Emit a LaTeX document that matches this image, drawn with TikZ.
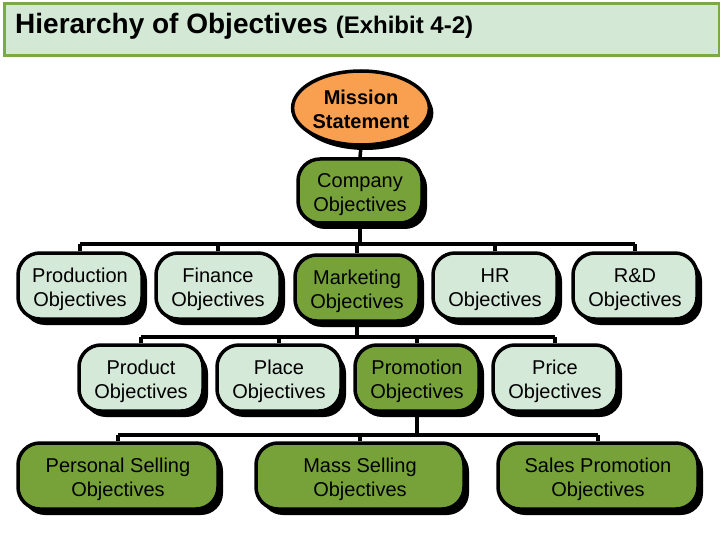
\documentclass[tikz,border=0pt]{standalone}
\usepackage{fontspec}
\setmainfont{Liberation Sans}
\usetikzlibrary{shapes.geometric,shadows,backgrounds}
\definecolor{titlefill}{HTML}{D3E8D5}
\definecolor{titleline}{HTML}{79AA45}
\definecolor{lightbox}{HTML}{D4E9D8}
\definecolor{darkbox}{HTML}{77A23A}
\definecolor{orangefill}{HTML}{F8A050}
\newcommand{\lowstrut}{\rule{0pt}{22pt}}
\newcommand{\midstrut}{\rule{0pt}{18pt}}
\tikzset{
  boxbase/.style={draw=black, line width=3.5pt, rounded corners=22pt, align=center,
    inner sep=0pt, minimum height=66pt,
    font=\fontsize{20}{24}\selectfont,
    drop shadow={shadow xshift=5pt, shadow yshift=-6pt, fill=black, opacity=1}},
  lightnode/.style={boxbase, fill=lightbox, minimum width=124pt},
  darknode/.style={boxbase, fill=darkbox, minimum width=124pt},
  widenode/.style={boxbase, fill=darkbox, minimum width=200pt},
  missionnode/.style={ellipse, draw=black, line width=3.5pt, fill=orangefill, align=center,
    inner sep=0pt, minimum width=136pt, minimum height=74pt,
    font=\bfseries\fontsize{20}{24}\selectfont,
    drop shadow={shadow xshift=4pt, shadow yshift=-5pt, fill=black, opacity=1}},
  conn/.style={draw=black, line width=3.5pt}
}
\begin{document}
\begin{tikzpicture}[x=1pt,y=-1pt]
\useasboundingbox (0,0) rectangle (720,540);
% title bar
\node[draw=titleline, line width=3pt, fill=titlefill, minimum width=715pt, minimum height=52pt, inner sep=0pt, anchor=north west] (titlebar) at (2.5,2.5) {};
\node[anchor=base west, inner sep=0pt] (title) at (15,34)
  {\bfseries\fontsize{28}{30}\selectfont Hierarchy of Objectives \fontsize{24}{26}\selectfont(Exhibit 4-2)};
% nodes
\node[missionnode] (mission) at (361,108) {\midstrut Mission\\Statement};
\node[darknode, minimum height=64pt] (company) at (360,191) {\lowstrut Company\\Objectives};
\node[lightnode] (production) at (80,286) {\lowstrut Production\\Objectives};
\node[lightnode] (finance) at (218,286) {\lowstrut Finance\\Objectives};
\node[darknode] (marketing) at (357,288) {\lowstrut Marketing\\Objectives};
\node[lightnode] (hr) at (495,286) {\lowstrut HR\\Objectives};
\node[lightnode] (rd) at (635,286) {\lowstrut R\&D\\Objectives};
\node[lightnode] (product) at (141,378) {\lowstrut Product\\Objectives};
\node[lightnode] (place) at (279,378) {\lowstrut Place\\Objectives};
\node[darknode] (promotion) at (417,378) {\lowstrut Promotion\\Objectives};
\node[lightnode] (price) at (555,378) {\lowstrut Price\\Objectives};
\node[widenode] (personal) at (118,476) {\lowstrut Personal Selling\\Objectives};
\node[widenode, minimum width=208pt] (mass) at (360,476) {\lowstrut Mass Selling\\Objectives};
\node[widenode] (salesprom) at (598,476) {\lowstrut Sales Promotion\\Objectives};
% bus coordinates
\coordinate (bus2) at (0,244);
\coordinate (bus3) at (0,337);
\coordinate (bus4) at (0,435);
\begin{scope}[on background layer]
\draw[conn] (mission.south) -- (company.north);
\draw[conn] (company.south) -- (company.south |- bus2);
\draw[conn] (production.north |- bus2) -- (rd.north |- bus2);
\foreach \n in {production,finance,marketing,hr,rd}
  \draw[conn] (\n.north) -- (\n.north |- bus2);
\draw[conn] (marketing.south) -- (marketing.south |- bus3);
\draw[conn] (product.north |- bus3) -- (price.north |- bus3);
\foreach \n in {product,place,promotion,price}
  \draw[conn] (\n.north) -- (\n.north |- bus3);
\draw[conn] (promotion.south) -- (promotion.south |- bus4);
\draw[conn] (personal.north |- bus4) -- (salesprom.north |- bus4);
\foreach \n in {personal,mass,salesprom}
  \draw[conn] (\n.north) -- (\n.north |- bus4);
\end{scope}
\end{tikzpicture}
\end{document}
